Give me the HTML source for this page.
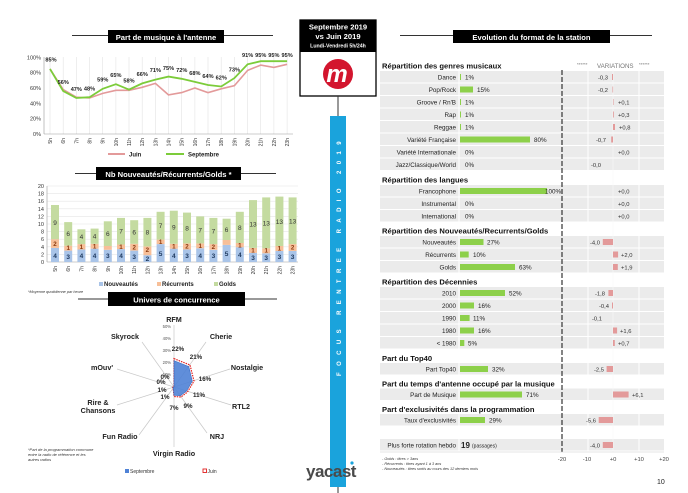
<!DOCTYPE html>
<html><head><meta charset="utf-8"><style>
html,body{margin:0;padding:0;background:#fff;width:688px;height:493px;overflow:hidden}
svg{font-family:"Liberation Sans",sans-serif;display:block}
.t{font-size:6.5px;fill:#222}
.b{font-weight:bold}
.lab{font-size:6.3px;fill:#222;text-anchor:end}
.pct{font-size:6.3px;fill:#222}
.hd{font-size:7.6px;font-weight:bold;fill:#111}
.v{font-size:5.8px;fill:#333}
</style></head><body>
<svg width="688" height="493" viewBox="0 0 688 493">
<!-- ===== Line chart ===== -->
<line x1="72" y1="35.5" x2="273" y2="35.5" stroke="#333" stroke-width="1"/>
<rect x="108" y="30" width="116" height="13" fill="#000"/>
<text x="166" y="40" fill="#fff" font-size="7.6" font-weight="bold" text-anchor="middle">Part de musique à l'antenne</text>
<g stroke="#e3e3e3" stroke-width="0.6">
<line x1="50" y1="57" x2="50" y2="134"/><line x1="63.2" y1="57" x2="63.2" y2="134"/><line x1="76.3" y1="57" x2="76.3" y2="134"/><line x1="89.5" y1="57" x2="89.5" y2="134"/><line x1="102.7" y1="57" x2="102.7" y2="134"/><line x1="115.9" y1="57" x2="115.9" y2="134"/><line x1="129" y1="57" x2="129" y2="134"/><line x1="142.2" y1="57" x2="142.2" y2="134"/><line x1="155.4" y1="57" x2="155.4" y2="134"/><line x1="168.5" y1="57" x2="168.5" y2="134"/><line x1="181.7" y1="57" x2="181.7" y2="134"/><line x1="194.9" y1="57" x2="194.9" y2="134"/><line x1="208" y1="57" x2="208" y2="134"/><line x1="221.2" y1="57" x2="221.2" y2="134"/><line x1="234.4" y1="57" x2="234.4" y2="134"/><line x1="247.6" y1="57" x2="247.6" y2="134"/><line x1="260.7" y1="57" x2="260.7" y2="134"/><line x1="273.9" y1="57" x2="273.9" y2="134"/><line x1="287.1" y1="57" x2="287.1" y2="134"/>
</g>
<line x1="44" y1="57" x2="44" y2="134" stroke="#999" stroke-width="0.6"/>
<line x1="44" y1="134" x2="293" y2="134" stroke="#999" stroke-width="0.6"/>
<g font-size="5.5" fill="#333" text-anchor="end">
<text x="41" y="59.5">100%</text><text x="41" y="74.7">80%</text><text x="41" y="90">60%</text><text x="41" y="105.4">40%</text><text x="41" y="120.7">20%</text><text x="41" y="136">0%</text>
</g>
<g font-size="5" fill="#333" text-anchor="end">
<text transform="translate(52,138) rotate(-90)">5h</text><text transform="translate(65.2,138) rotate(-90)">6h</text><text transform="translate(78.3,138) rotate(-90)">7h</text><text transform="translate(91.5,138) rotate(-90)">8h</text><text transform="translate(104.7,138) rotate(-90)">9h</text><text transform="translate(117.9,138) rotate(-90)">10h</text><text transform="translate(131,138) rotate(-90)">11h</text><text transform="translate(144.2,138) rotate(-90)">12h</text><text transform="translate(157.4,138) rotate(-90)">13h</text><text transform="translate(170.5,138) rotate(-90)">14h</text><text transform="translate(183.7,138) rotate(-90)">15h</text><text transform="translate(196.9,138) rotate(-90)">16h</text><text transform="translate(210,138) rotate(-90)">17h</text><text transform="translate(223.2,138) rotate(-90)">18h</text><text transform="translate(236.4,138) rotate(-90)">19h</text><text transform="translate(249.6,138) rotate(-90)">20h</text><text transform="translate(262.7,138) rotate(-90)">21h</text><text transform="translate(275.9,138) rotate(-90)">22h</text><text transform="translate(289.1,138) rotate(-90)">23h</text>
</g>
<polyline fill="none" stroke="#e39a9a" stroke-width="1.6" points="50,68.9 63.2,89.6 76.3,97.2 89.5,98 102.7,93.4 115.9,90.3 129,90.3 142.2,87.3 155.4,83.4 168.5,94.9 181.7,92.6 194.9,88 208,92.6 221.2,88.8 234.4,85.7 247.6,70.4 260.7,65.1 273.9,67.4 287.1,64.3"/>
<polyline fill="none" stroke="#7ccc3a" stroke-width="1.8" points="50,68.9 63.2,91.1 76.3,98 89.5,97.2 102.7,88.8 115.9,84.2 129,89.6 142.2,83.4 155.4,79.6 168.5,76.6 181.7,78.8 194.9,81.9 208,85 221.2,86.5 234.4,78.1 247.6,64.3 260.7,61.2 273.9,61.2 287.1,61.2"/>
<g font-size="5.6" font-weight="bold" fill="#222" text-anchor="middle">
<text x="51" y="61.5">85%</text><text x="63.2" y="84">56%</text><text x="76.3" y="91">47%</text><text x="89.5" y="90.5">48%</text><text x="102.7" y="81.5">59%</text><text x="115.9" y="77">65%</text><text x="129" y="82.5">58%</text><text x="142.2" y="76">66%</text><text x="155.4" y="72">71%</text><text x="168.5" y="70">75%</text><text x="181.7" y="72">72%</text><text x="194.9" y="75">68%</text><text x="208" y="78">64%</text><text x="221.2" y="79.5">62%</text><text x="234.4" y="71.5">73%</text><text x="247.6" y="57">91%</text><text x="260.7" y="57">95%</text><text x="273.9" y="57">95%</text><text x="287.1" y="57">95%</text>
</g>
<line x1="108" y1="154" x2="125" y2="154" stroke="#e39a9a" stroke-width="2"/>
<text x="129" y="156.5" font-size="6" font-weight="bold" fill="#222">Juin</text>
<line x1="166" y1="154" x2="184" y2="154" stroke="#7ccc3a" stroke-width="2"/>
<text x="188" y="156.5" font-size="6" font-weight="bold" fill="#222">Septembre</text>

<!-- ===== Bar chart ===== -->
<line x1="75" y1="173.5" x2="276" y2="173.5" stroke="#333" stroke-width="1"/>
<rect x="96" y="167" width="145" height="13" fill="#000"/>
<text x="168.5" y="177" fill="#fff" font-size="7.6" font-weight="bold" text-anchor="middle">Nb Nouveautés/Récurrents/Golds *</text>
<g stroke="#e6e6e6" stroke-width="0.6">
<line x1="47" y1="186" x2="298" y2="186"/><line x1="47" y1="193.6" x2="298" y2="193.6"/><line x1="47" y1="201.2" x2="298" y2="201.2"/><line x1="47" y1="208.8" x2="298" y2="208.8"/><line x1="47" y1="216.4" x2="298" y2="216.4"/><line x1="47" y1="224" x2="298" y2="224"/><line x1="47" y1="231.6" x2="298" y2="231.6"/><line x1="47" y1="239.2" x2="298" y2="239.2"/><line x1="47" y1="246.8" x2="298" y2="246.8"/><line x1="47" y1="254.4" x2="298" y2="254.4"/>
</g>
<line x1="47" y1="186" x2="47" y2="262" stroke="#999" stroke-width="0.6"/>
<line x1="47" y1="262" x2="298" y2="262" stroke="#999" stroke-width="0.6"/>
<g font-size="5.5" fill="#333" text-anchor="end">
<text x="44" y="188">20</text><text x="44" y="195.6">18</text><text x="44" y="203.2">16</text><text x="44" y="210.8">14</text><text x="44" y="218.4">12</text><text x="44" y="226">10</text><text x="44" y="233.6">8</text><text x="44" y="241.2">6</text><text x="44" y="248.8">4</text><text x="44" y="256.4">2</text><text x="44" y="264">0</text>
</g>
<g fill="#a9c4e8">
<rect x="51" y="247.9" width="8" height="14.1"/><rect x="64.2" y="250.6" width="8" height="11.4"/><rect x="77.4" y="249.5" width="8" height="12.5"/><rect x="90.6" y="248.7" width="8" height="13.3"/><rect x="103.8" y="249.8" width="8" height="12.2"/><rect x="117" y="249.1" width="8" height="12.9"/><rect x="130.2" y="250.6" width="8" height="11.4"/><rect x="143.4" y="255.2" width="8" height="6.8"/><rect x="156.6" y="244.1" width="8" height="17.9"/><rect x="169.8" y="248.7" width="8" height="13.3"/><rect x="183" y="249.5" width="8" height="12.5"/><rect x="196.2" y="248.3" width="8" height="13.7"/><rect x="209.4" y="249.8" width="8" height="12.2"/><rect x="222.6" y="244.9" width="8" height="17.1"/><rect x="235.8" y="247.2" width="8" height="14.8"/><rect x="249" y="252.9" width="8" height="9.1"/><rect x="262.2" y="253.3" width="8" height="8.7"/><rect x="275.4" y="251" width="8" height="11"/><rect x="288.6" y="251" width="8" height="11"/>
</g>
<g fill="#f7bf98">
<rect x="51" y="239.2" width="8" height="8.7"/><rect x="64.2" y="245.7" width="8" height="4.9"/><rect x="77.4" y="244.1" width="8" height="5.4"/><rect x="90.6" y="243.8" width="8" height="4.9"/><rect x="103.8" y="246" width="8" height="3.8"/><rect x="117" y="244.5" width="8" height="4.6"/><rect x="130.2" y="243.8" width="8" height="6.8"/><rect x="143.4" y="246.4" width="8" height="8.8"/><rect x="156.6" y="239.6" width="8" height="4.5"/><rect x="169.8" y="243.8" width="8" height="4.9"/><rect x="183" y="243.4" width="8" height="6.1"/><rect x="196.2" y="243.4" width="8" height="4.9"/><rect x="209.4" y="244.1" width="8" height="5.7"/><rect x="222.6" y="240" width="8" height="4.9"/><rect x="235.8" y="243" width="8" height="4.2"/><rect x="249" y="247.9" width="8" height="5"/><rect x="262.2" y="248.3" width="8" height="5"/><rect x="275.4" y="246" width="8" height="5"/><rect x="288.6" y="244.1" width="8" height="6.9"/>
</g>
<g fill="#c4dba0">
<rect x="51" y="205" width="8" height="34.2"/><rect x="64.2" y="222.1" width="8" height="23.6"/><rect x="77.4" y="229.3" width="8" height="14.8"/><rect x="90.6" y="228.6" width="8" height="15.2"/><rect x="103.8" y="221.3" width="8" height="24.7"/><rect x="117" y="217.9" width="8" height="26.6"/><rect x="130.2" y="220.2" width="8" height="23.6"/><rect x="143.4" y="217.9" width="8" height="28.5"/><rect x="156.6" y="211.8" width="8" height="27.8"/><rect x="169.8" y="210.7" width="8" height="33.1"/><rect x="183" y="212.6" width="8" height="30.8"/><rect x="196.2" y="216.4" width="8" height="27"/><rect x="209.4" y="217.9" width="8" height="26.2"/><rect x="222.6" y="218.7" width="8" height="21.3"/><rect x="235.8" y="211.8" width="8" height="31.2"/><rect x="249" y="200.1" width="8" height="47.8"/><rect x="262.2" y="197.4" width="8" height="50.9"/><rect x="275.4" y="196.6" width="8" height="49.4"/><rect x="288.6" y="197.4" width="8" height="46.7"/>
</g>
<g font-size="6.5" font-weight="bold" fill="#1f3a60" text-anchor="middle">
<text x="55" y="258">4</text><text x="68.2" y="259">3</text><text x="81.4" y="258">4</text><text x="94.6" y="258">4</text><text x="107.8" y="258">3</text><text x="121" y="258">4</text><text x="134.2" y="259">3</text><text x="147.4" y="261">2</text><text x="160.6" y="256">5</text><text x="173.8" y="258">4</text><text x="187" y="258">3</text><text x="200.2" y="258">4</text><text x="213.4" y="258">3</text><text x="226.6" y="256">5</text><text x="239.8" y="257">4</text><text x="253" y="260">3</text><text x="266.2" y="260">3</text><text x="279.4" y="259">3</text><text x="292.6" y="259">3</text>
</g>
<g font-size="6.2" font-weight="bold" fill="#8a3a10" text-anchor="middle">
<text x="55" y="246">2</text><text x="68.2" y="250">1</text><text x="81.4" y="249">1</text><text x="94.6" y="248.5">1</text><text x="121" y="249">1</text><text x="134.2" y="249.5">2</text><text x="147.4" y="252">2</text><text x="160.6" y="244">1</text><text x="173.8" y="248.5">1</text><text x="187" y="248.5">2</text><text x="200.2" y="248">1</text><text x="213.4" y="249">2</text><text x="239.8" y="247.5">1</text><text x="253" y="252.5">1</text><text x="266.2" y="252.5">1</text><text x="279.4" y="250.5">1</text><text x="292.6" y="249.5">2</text>
</g>
<g font-size="6.5" fill="#333" text-anchor="middle">
<text x="55" y="225">9</text><text x="68.2" y="236">6</text><text x="81.4" y="239">4</text><text x="94.6" y="238.5">4</text><text x="107.8" y="236">6</text><text x="121" y="233.5">7</text><text x="134.2" y="234.5">6</text><text x="147.4" y="234.5">8</text><text x="160.6" y="228">7</text><text x="173.8" y="229.5">9</text><text x="187" y="230.5">8</text><text x="200.2" y="232.5">7</text><text x="213.4" y="233.5">7</text><text x="226.6" y="232">6</text><text x="239.8" y="230">8</text><text x="253" y="226.5">13</text><text x="266.2" y="225.5">13</text><text x="279.4" y="224">13</text><text x="292.6" y="223.5">13</text>
</g>
<g font-size="5" fill="#333" text-anchor="end">
<text transform="translate(57,266) rotate(-90)">5h</text><text transform="translate(70.2,266) rotate(-90)">6h</text><text transform="translate(83.4,266) rotate(-90)">7h</text><text transform="translate(96.6,266) rotate(-90)">8h</text><text transform="translate(109.8,266) rotate(-90)">9h</text><text transform="translate(123,266) rotate(-90)">10h</text><text transform="translate(136.2,266) rotate(-90)">11h</text><text transform="translate(149.4,266) rotate(-90)">12h</text><text transform="translate(162.6,266) rotate(-90)">13h</text><text transform="translate(175.8,266) rotate(-90)">14h</text><text transform="translate(189,266) rotate(-90)">15h</text><text transform="translate(202.2,266) rotate(-90)">16h</text><text transform="translate(215.4,266) rotate(-90)">17h</text><text transform="translate(228.6,266) rotate(-90)">18h</text><text transform="translate(241.8,266) rotate(-90)">19h</text><text transform="translate(255,266) rotate(-90)">20h</text><text transform="translate(268.2,266) rotate(-90)">21h</text><text transform="translate(281.4,266) rotate(-90)">22h</text><text transform="translate(294.6,266) rotate(-90)">23h</text>
</g>
<rect x="99" y="282" width="4" height="4" fill="#a9c4e8"/><text x="104" y="286" font-size="6" font-weight="bold" fill="#222">Nouveautés</text>
<rect x="157" y="282" width="4" height="4" fill="#f7bf98"/><text x="162" y="286" font-size="6" font-weight="bold" fill="#222">Récurrents</text>
<rect x="214" y="282" width="4" height="4" fill="#c4dba0"/><text x="219" y="286" font-size="6" font-weight="bold" fill="#222">Golds</text>
<text x="28" y="293" font-size="3.8" font-style="italic" fill="#333">*Moyenne quotidienne par heure</text>

<!-- ===== Radar ===== -->
<line x1="78" y1="299" x2="277" y2="299" stroke="#333" stroke-width="1"/>
<rect x="108" y="292" width="137" height="14" fill="#000"/>
<text x="176.5" y="302.5" fill="#fff" font-size="7.6" font-weight="bold" text-anchor="middle">Univers de concurrence</text>
<g stroke="#c8c8c8" stroke-width="0.7">
<line x1="174" y1="387" x2="174" y2="325"/><line x1="174" y1="387" x2="206" y2="342"/><line x1="174" y1="387" x2="230" y2="369"/><line x1="174" y1="387" x2="231" y2="405"/><line x1="174" y1="387" x2="207" y2="433"/><line x1="174" y1="387" x2="174" y2="447"/><line x1="174" y1="387" x2="139" y2="435"/><line x1="174" y1="387" x2="117" y2="405"/><line x1="174" y1="387" x2="117" y2="369"/><line x1="174" y1="387" x2="142" y2="342"/>
</g>
<polygon points="174,358.6 190,365 194,381 187.5,392 181,397 174,396.5 173.2,388.2 172.8,387.4 174,387 174,387" fill="none" stroke="#e02020" stroke-width="1.2" stroke-dasharray="1.5,1"/>
<polygon points="174,360.6 188.8,366.6 192.3,381.1 186.6,391.1 180.4,395.7 174,395.4 173.3,388 172.9,387.4 174,387 174,387" fill="#4f82d6" fill-opacity="0.9" stroke="#3a6cc0" stroke-width="0.6"/>
<g font-size="4.2" fill="#555" text-anchor="end">
<text x="171" y="328">50%</text><text x="171" y="340">40%</text><text x="171" y="352">30%</text><text x="171" y="364">20%</text><text x="171" y="376">10%</text>
</g>
<g font-size="7.2" font-weight="bold" fill="#222" text-anchor="middle">
<text x="174" y="322">RFM</text><text x="221" y="339">Cherie</text><text x="247" y="370">Nostalgie</text><text x="241" y="409">RTL2</text><text x="217" y="439">NRJ</text><text x="174" y="456">Virgin Radio</text><text x="120" y="439">Fun Radio</text><text x="98" y="405">Rire &amp;</text><text x="98" y="413">Chansons</text><text x="102" y="370">mOuv'</text><text x="125" y="339">Skyrock</text>
</g>
<g font-size="6.2" font-weight="bold" fill="#222" text-anchor="middle">
<text x="178" y="351">22%</text><text x="196" y="359">21%</text><text x="205" y="381">16%</text><text x="199" y="397">11%</text><text x="188" y="408">9%</text><text x="174" y="410">7%</text><text x="165" y="399">1%</text><text x="162" y="392">1%</text><text x="161" y="384">0%</text><text x="165" y="379">0%</text>
</g>
<text x="28" y="451" font-size="4" font-style="italic" fill="#333">*Part de la programmation commune</text>
<text x="28" y="456" font-size="4" font-style="italic" fill="#333">entre la radio de référence et les</text>
<text x="28" y="461" font-size="4" font-style="italic" fill="#333">autres radios</text>
<rect x="125" y="469" width="4" height="4" fill="#4f82d6"/><text x="130" y="473" font-size="5" fill="#333">Septembre</text>
<rect x="203" y="469" width="3.5" height="3.5" fill="none" stroke="#e02020" stroke-width="0.9"/><text x="207.5" y="473" font-size="5" fill="#333">Juin</text>

<!-- ===== Center ===== -->
<rect x="300" y="20" width="76" height="76" fill="#fff" stroke="#000" stroke-width="1.3"/>
<rect x="300" y="20" width="76" height="32" fill="#000"/>
<text x="338" y="29.5" fill="#fff" font-size="7.6" font-weight="bold" text-anchor="middle">Septembre 2019</text>
<text x="338" y="39" fill="#fff" font-size="7.6" font-weight="bold" text-anchor="middle">vs Juin 2019</text>
<text x="338" y="47.5" fill="#fff" font-size="5.2" font-weight="bold" text-anchor="middle">Lundi-Vendredi 5h/24h</text>
<circle cx="338" cy="74" r="15" fill="#d3152e"/>
<text x="337" y="82" fill="#fff" font-size="24" font-weight="bold" font-style="italic" text-anchor="middle">m</text>
<line x1="338" y1="96" x2="338" y2="117" stroke="#333" stroke-width="1"/>
<line x1="338" y1="486" x2="338" y2="493" stroke="#333" stroke-width="1"/>
<rect x="330" y="116" width="16" height="371" fill="#1aa3dc"/>
<text transform="translate(341,376) rotate(-90)" fill="#fff" font-size="6" font-weight="bold" letter-spacing="6.4">FOCUS  RENTREE  RADIO  2019</text>
<text x="306" y="477" font-size="17" fill="#4a4a4a" font-weight="bold" letter-spacing="-0.5">yacast</text>
<circle cx="352" cy="463" r="1.6" fill="#1aa3dc"/>
<text x="657" y="484" font-size="7" fill="#222">10</text>

<!-- ===== Right table ===== -->
<line x1="400" y1="35.5" x2="652" y2="35.5" stroke="#333" stroke-width="1"/>
<rect x="453" y="30" width="157" height="13" fill="#000"/>
<text x="531.5" y="40" fill="#fff" font-size="7.6" font-weight="bold" text-anchor="middle">Evolution du format de la station</text>

<g fill="#ebebeb">
<rect x="380" y="71" width="284" height="11.5"/><rect x="380" y="83.5" width="284" height="11.5"/><rect x="380" y="96" width="284" height="11.5"/><rect x="380" y="108.5" width="284" height="11.5"/><rect x="380" y="121" width="284" height="11.5"/><rect x="380" y="133.5" width="284" height="11.5"/><rect x="380" y="146" width="284" height="11.5"/><rect x="380" y="158.5" width="284" height="11.5"/>
<rect x="380" y="185" width="284" height="11.5"/><rect x="380" y="197.5" width="284" height="11.5"/><rect x="380" y="210" width="284" height="11.5"/>
<rect x="380" y="236" width="284" height="11.5"/><rect x="380" y="248.5" width="284" height="11.5"/><rect x="380" y="261" width="284" height="11.5"/>
<rect x="380" y="287" width="284" height="11.5"/><rect x="380" y="299.5" width="284" height="11.5"/><rect x="380" y="312" width="284" height="11.5"/><rect x="380" y="324.5" width="284" height="11.5"/><rect x="380" y="337" width="284" height="11.5"/>
<rect x="380" y="363" width="284" height="11.5"/><rect x="380" y="388.5" width="284" height="11.5"/><rect x="380" y="414" width="284" height="11.5"/>
<rect x="380" y="439" width="284" height="11.5"/>
</g>
<g stroke="#fff" stroke-width="1">
<line x1="459" y1="70" x2="459" y2="452"/><line x1="588" y1="70" x2="588" y2="452"/><line x1="639" y1="70" x2="639" y2="452"/>
</g>
<line x1="613" y1="70" x2="613" y2="452" stroke="#f8f8f8" stroke-width="0.6"/>
<line x1="562" y1="70" x2="562" y2="452" stroke="#333" stroke-width="1.2" stroke-dasharray="5,2"/>
<line x1="380" y1="452" x2="664" y2="452" stroke="#ccc" stroke-width="0.6"/>

<g class="hd">
<text x="382" y="68.5" class="hd">Répartition des genres musicaux</text>
<text x="382" y="182.5" class="hd">Répartition des langues</text>
<text x="382" y="233.5" class="hd">Répartition des Nouveautés/Recurrents/Golds</text>
<text x="382" y="284.5" class="hd">Répartition des Décennies</text>
<text x="382" y="361" class="hd">Part du Top40</text>
<text x="382" y="386.5" class="hd">Part du temps d'antenne occupé par la musique</text>
<text x="382" y="412" class="hd">Part d'exclusivités dans la programmation</text>
</g>
<text x="577" y="66" font-size="4.5" fill="#777">******</text>
<text x="597" y="68" font-size="6.2" fill="#777">VARIATIONS</text>
<text x="639" y="66" font-size="4.5" fill="#777">******</text>

<g fill="#8dd04a">
<rect x="460" y="74" width="1" height="6"/><rect x="460" y="86.5" width="13" height="6"/><rect x="460" y="99" width="1" height="6"/><rect x="460" y="111.5" width="1" height="6"/><rect x="460" y="124" width="1" height="6"/><rect x="460" y="136.5" width="70" height="6"/>
<rect x="460" y="188" width="87" height="6"/>
<rect x="460" y="239" width="23.5" height="6"/><rect x="460" y="251.5" width="8.7" height="6"/><rect x="460" y="264" width="55" height="6"/>
<rect x="460" y="290" width="45" height="6"/><rect x="460" y="302.5" width="14" height="6"/><rect x="460" y="315" width="9.6" height="6"/><rect x="460" y="327.5" width="14" height="6"/><rect x="460" y="340" width="4.3" height="6"/>
<rect x="460" y="366" width="28" height="6"/><rect x="460" y="391.5" width="62" height="6"/><rect x="460" y="417" width="25" height="6"/>
</g>
<g class="lab">
<text x="456" y="79.5">Dance</text><text x="456" y="92">Pop/Rock</text><text x="456" y="104.5">Groove / Rn'B</text><text x="456" y="117">Rap</text><text x="456" y="129.5">Reggae</text><text x="456" y="142">Variété Française</text><text x="456" y="154.5">Variété Internationale</text><text x="456" y="167">Jazz/Classique/World</text>
<text x="456" y="193.5">Francophone</text><text x="456" y="206">Instrumental</text><text x="456" y="218.5">International</text>
<text x="456" y="244.5">Nouveautés</text><text x="456" y="257">Récurrents</text><text x="456" y="269.5">Golds</text>
<text x="456" y="295.5">2010</text><text x="456" y="308">2000</text><text x="456" y="320.5">1990</text><text x="456" y="333">1980</text><text x="456" y="345.5">&lt; 1980</text>
<text x="456" y="371.5">Part Top40</text><text x="456" y="397">Part de Musique</text><text x="456" y="422.5">Taux d'exclusivités</text><text x="456" y="447.5">Plus forte rotation hebdo</text>
</g>
<g class="pct">
<text x="465" y="79.5">1%</text><text x="477" y="92">15%</text><text x="465" y="104.5">1%</text><text x="465" y="117">1%</text><text x="465" y="129.5">1%</text><text x="534" y="142">80%</text><text x="465" y="154.5">0%</text><text x="465" y="167">0%</text>
<text x="545" y="193.5">100%</text><text x="465" y="206">0%</text><text x="465" y="218.5">0%</text>
<text x="487" y="244.5">27%</text><text x="473" y="257">10%</text><text x="519" y="269.5">63%</text>
<text x="509" y="295.5">52%</text><text x="478" y="308">16%</text><text x="473" y="320.5">11%</text><text x="478" y="333">16%</text><text x="468" y="345.5">5%</text>
<text x="492" y="371.5">32%</text><text x="526" y="397">71%</text><text x="489" y="422.5">29%</text>
<text x="461" y="448" font-size="8" font-weight="bold">19</text><text x="472" y="447.5" font-size="5">(passages)</text>
</g>
<g fill="#e39a9a">
<rect x="612" y="74" width="1" height="6"/><rect x="612.5" y="86.5" width="0.6" height="6"/><rect x="613" y="99" width="0.5" height="6"/><rect x="613" y="111.5" width="0.8" height="6"/><rect x="613" y="124" width="2" height="6"/><rect x="611.2" y="136.5" width="1.8" height="6"/>
<rect x="602.8" y="239" width="10.2" height="6"/><rect x="613" y="251.5" width="5.1" height="6"/><rect x="613" y="264" width="4.8" height="6"/>
<rect x="608.4" y="290" width="4.6" height="6"/><rect x="612" y="302.5" width="1" height="6"/><rect x="613" y="327.5" width="4.1" height="6"/><rect x="613" y="340" width="1.8" height="6"/>
<rect x="606.6" y="366" width="6.4" height="6"/><rect x="613" y="391.5" width="15.6" height="6"/><rect x="598.7" y="417" width="14.3" height="6"/><rect x="602.8" y="442" width="10.2" height="6"/>
</g>
<g class="v" text-anchor="end">
<text x="608" y="79.5">-0,3</text><text x="608" y="92">-0,2</text><text x="606" y="142">-0,7</text><text x="601" y="167">-0,0</text>
<text x="600" y="244.5">-4,0</text><text x="605" y="295.5">-1,8</text><text x="609" y="308">-0,4</text><text x="602" y="320.5">-0,1</text>
<text x="604" y="371.5">-2,5</text><text x="596" y="422.5">-5,6</text><text x="600" y="447.5">-4,0</text>
</g>
<g class="v">
<text x="618" y="104.5">+0,1</text><text x="618" y="117">+0,3</text><text x="619" y="129.5">+0,8</text><text x="618" y="154.5">+0,0</text>
<text x="618" y="193.5">+0,0</text><text x="618" y="206">+0,0</text><text x="618" y="218.5">+0,0</text>
<text x="621" y="257">+2,0</text><text x="621" y="269.5">+1,9</text>
<text x="620" y="333">+1,6</text><text x="618" y="345.5">+0,7</text><text x="632" y="397">+6,1</text>
</g>
<g font-size="5.8" fill="#444" text-anchor="middle">
<text x="562" y="461">-20</text><text x="587" y="461">-10</text><text x="613" y="461">+0</text><text x="639" y="461">+10</text><text x="664" y="461">+20</text>
</g>
<g font-size="3.8" font-style="italic" fill="#333">
<text x="382" y="460">- Golds : titres &gt; 3ans</text>
<text x="382" y="465">- Récurrents : titres ayant 1 à 3 ans</text>
<text x="382" y="470">- Nouveautés : titres sortis au cours des 12 derniers mois</text>
</g>
</svg>
</body></html>
